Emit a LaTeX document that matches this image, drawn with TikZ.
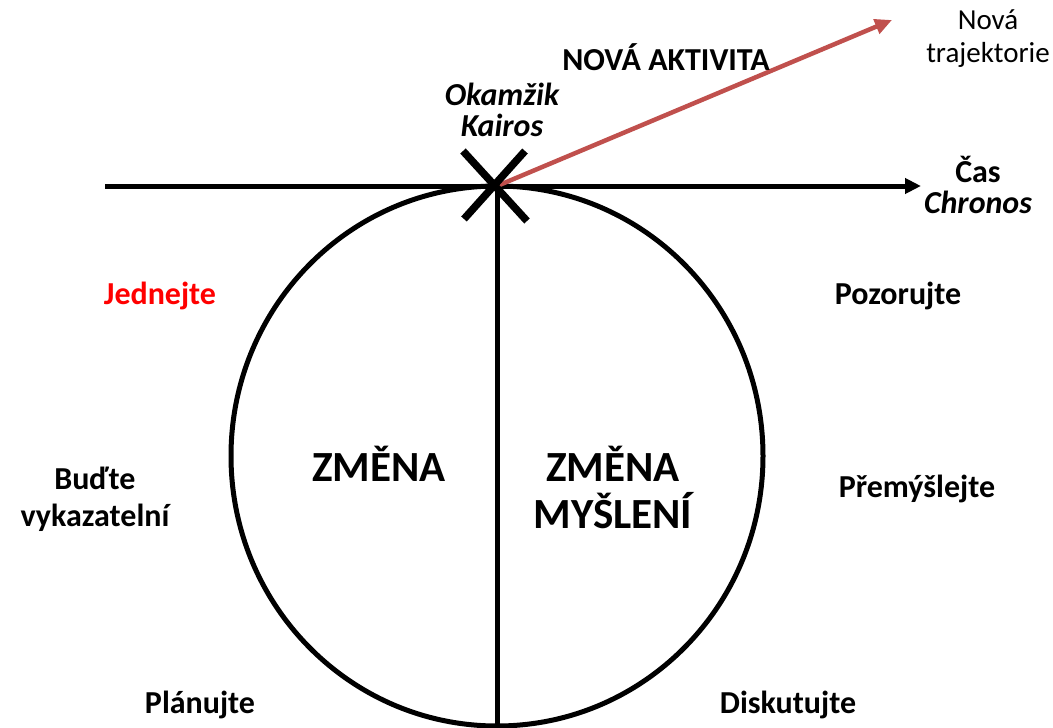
\documentclass[tikz,border=0pt]{standalone}
\usepackage{fontspec}
\setmainfont{Carlito}
\usetikzlibrary{arrows.meta}
\definecolor{redarrow}{RGB}{192,80,77}
\definecolor{brightred}{RGB}{255,0,0}
\tikzset{
  lbl/.style={font=\fontsize{32}{31}\selectfont\bfseries, align=center, inner sep=0pt},
  big/.style={font=\fontsize{43}{47}\selectfont\bfseries, align=center, inner sep=0pt},
  thin/.style={font=\fontsize{29}{33}\selectfont, align=center, inner sep=0pt},
  heavy/.style={line width=5pt},
}
\begin{document}
\begin{tikzpicture}[x=1pt,y=-1pt]
\useasboundingbox (0,0) rectangle (1053,728);
% coordinates
\coordinate (k) at (497,186);
\coordinate (axstart) at (105,186);
\coordinate (axend) at (921,186);
\coordinate (bot) at (497,728);
\coordinate (traj) at (892,20);
\coordinate (c) at (497,456);
\coordinate (xa) at (463,151);
\coordinate (xb) at (527,221);
\coordinate (xc) at (525,151);
\coordinate (xd) at (464,219);
% circle
\draw[heavy] (c) ellipse [x radius=266pt, y radius=270pt];
% vertical line
\draw[heavy] (k) -- (bot);
% time axis
\draw[heavy, -{Triangle[length=16pt,width=15pt]}] (axstart) -- (axend);
% new trajectory
\draw[redarrow, line width=4.5pt, -{Triangle[length=17pt,width=15pt]}] (k) -- (traj);
% X mark
\draw[line width=7.5pt] (xa) -- (xb);
\draw[line width=7.5pt] (xc) -- (xd);
% labels
\node[lbl] (nova) at (666,57) {NOVÁ AKTIVITA};
\node[lbl] (kairos) at (502,110) {\itshape Okamžik\\\itshape Kairos};
\node[thin] (traject) at (988,39) {Nová\\trajektorie};
\node[lbl] (cas) at (978,185) {Čas\\\itshape Chronos};
\node[lbl, text=brightred] (jed) at (160,296) {Jednejte};
\node[lbl] (poz) at (898,296) {Pozorujte};
\node[lbl, font=\fontsize{32}{37}\selectfont\bfseries] (bud) at (95,499) {Buďte\\vykazatelní};
\node[lbl] (prem) at (917,489) {Přemýšlejte};
\node[lbl] (plan) at (200,705) {Plánujte};
\node[lbl] (disk) at (788,705) {Diskutujte};
\node[big] (zm1) at (379,464) {ZMĚNA};
\node[big] (zm2) at (613,487) {ZMĚNA\\MYŠLENÍ};
\end{tikzpicture}
\end{document}
